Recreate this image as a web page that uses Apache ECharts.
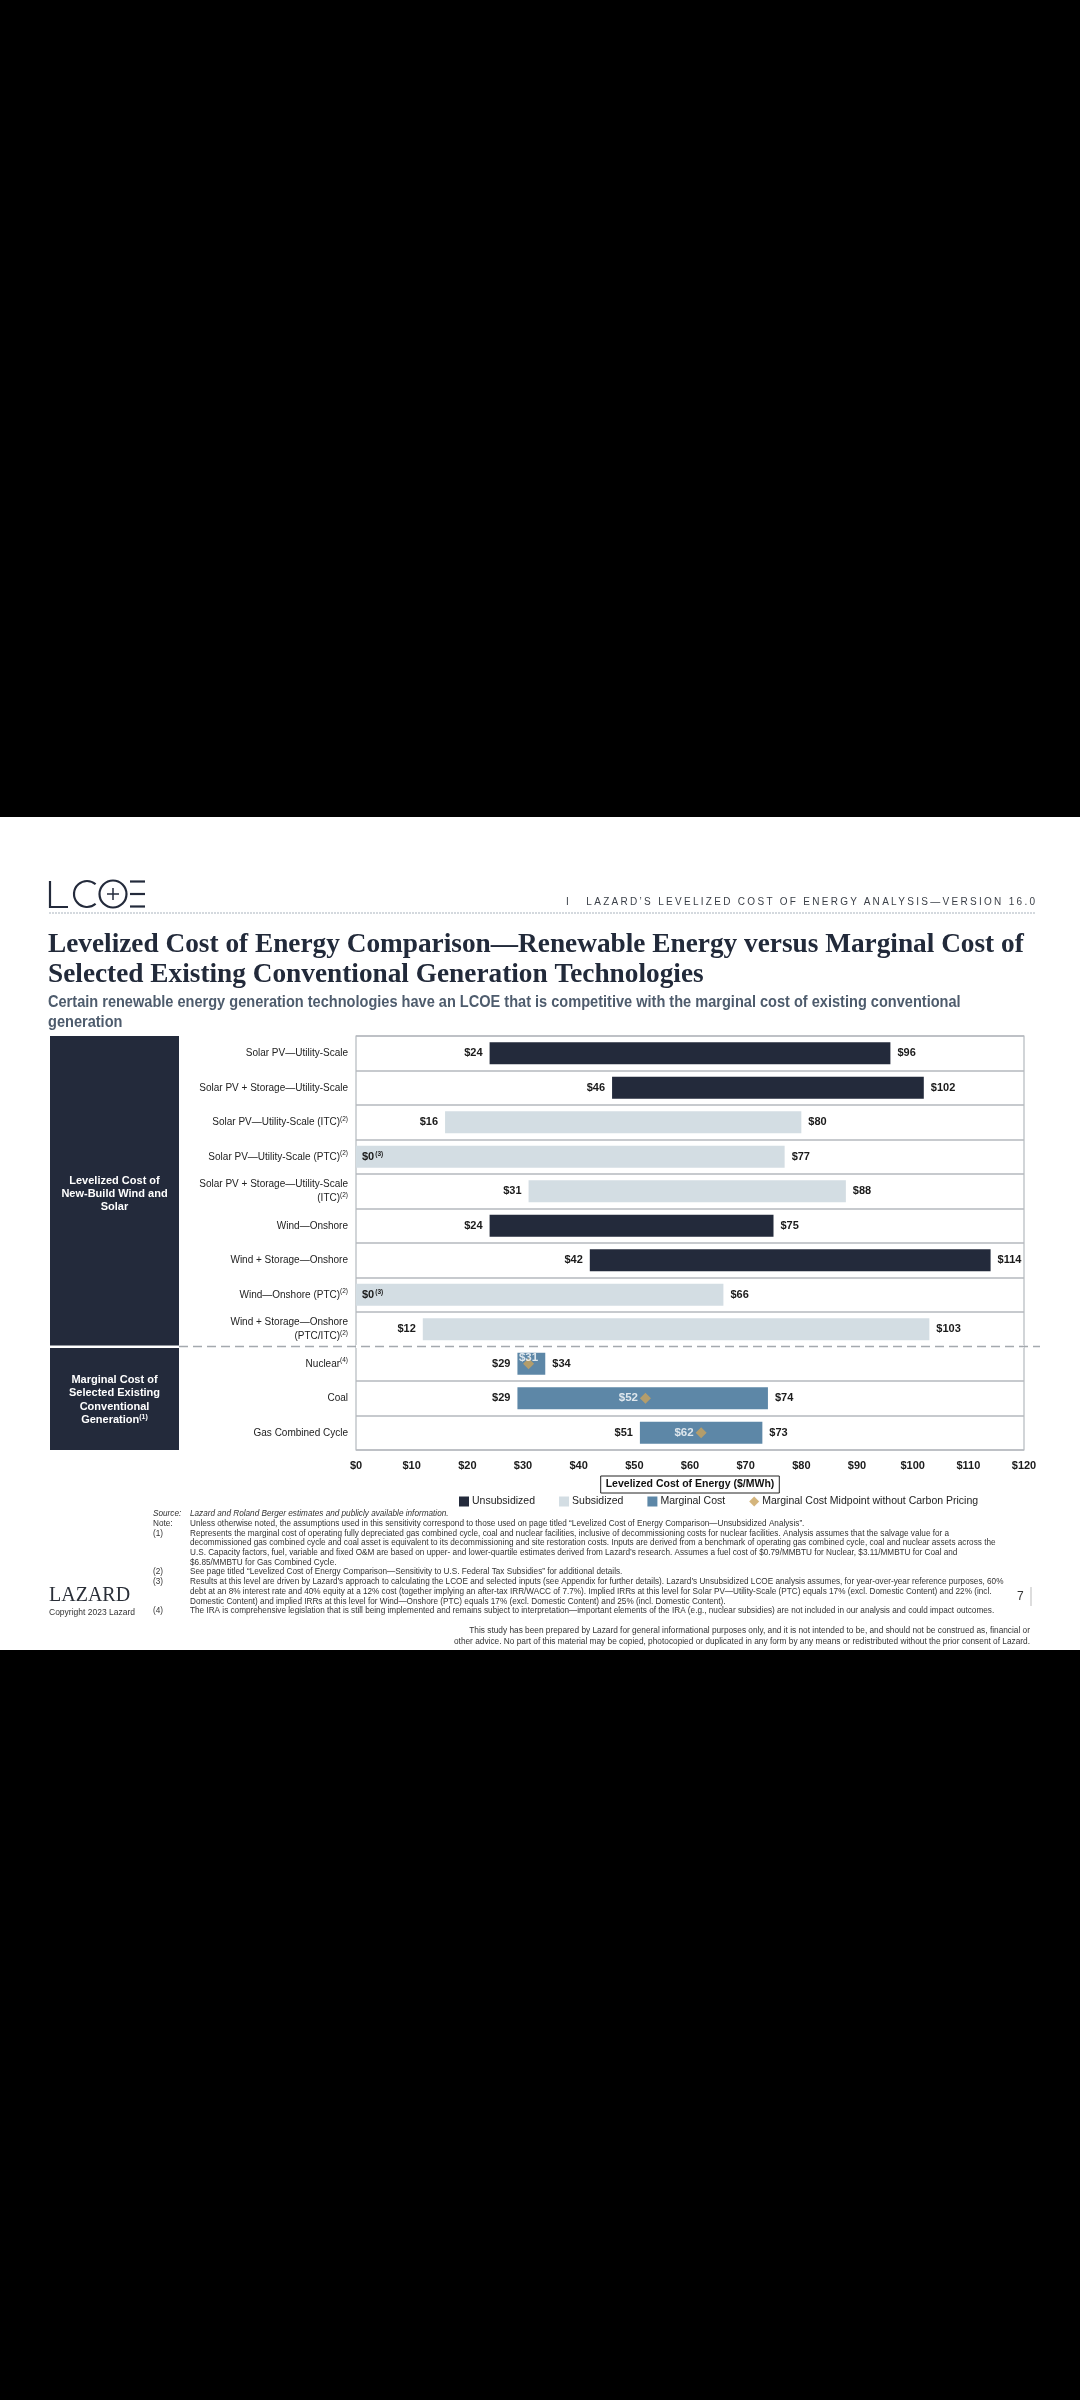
<!DOCTYPE html>
<html>
<head>
<meta charset="utf-8">
<script src="https://cdn.jsdelivr.net/npm/echarts@6/dist/echarts.min.js"></script>
<style>
html, body { margin: 0; padding: 0; background: #000; }
#chart { width: 1080px; height: 2400px; }
.hdr {
    position: absolute; left: 566px; top: 896px;
    font: 10px 'Liberation Sans', Arial, sans-serif;
    letter-spacing: 2.3px; color: #3a3f47; white-space: nowrap;
}
</style>
</head>
<body>
<div id="chart"></div>
<div class="hdr">I&nbsp;&nbsp;&nbsp;LAZARD’S LEVELIZED COST OF ENERGY ANALYSIS—VERSION 16.0</div>
<script>
// chart data
const categories = [
    'Solar PV—Utility-Scale',
    'Solar PV + Storage—Utility-Scale',
    'Solar PV—Utility-Scale (ITC)',
    'Solar PV—Utility-Scale (PTC)',
    'Solar PV + Storage—Utility-Scale\n(ITC)',
    'Wind—Onshore',
    'Wind + Storage—Onshore',
    'Wind—Onshore (PTC)',
    'Wind + Storage—Onshore\n(PTC/ITC)',
    'Nuclear',
    'Coal',
    'Gas Combined Cycle'
];
const notes = ['', '', '2', '2', '2', '', '', '2', '2', '4', '', ''];
const lowValues = [24, 46, 16, 0, 31, 24, 42, 0, 12, 29, 29, 51];
const highValues = [96, 102, 80, 77, 88, 75, 114, 66, 103, 34, 74, 73];
const barKind = ['Unsubsidized', 'Unsubsidized', 'Subsidized', 'Subsidized', 'Subsidized',
    'Unsubsidized', 'Unsubsidized', 'Subsidized', 'Subsidized',
    'Marginal Cost', 'Marginal Cost', 'Marginal Cost'];
const midpoints = [null, null, null, null, null, null, null, null, null, 31, 52, 62];
const zeroNote = '3';
const midName = 'Marginal Cost Midpoint without Carbon Pricing';

const footLines = [
    ['Source:', 'Lazard and Roland Berger estimates and publicly available information.', true],
    ['Note:', 'Unless otherwise noted, the assumptions used in this sensitivity correspond to those used on page titled “Levelized Cost of Energy Comparison—Unsubsidized Analysis”.'],
    ['(1)', 'Represents the marginal cost of operating fully depreciated gas combined cycle, coal and nuclear facilities, inclusive of decommissioning costs for nuclear facilities. Analysis assumes that the salvage value for a'],
    ['', 'decommissioned gas combined cycle and coal asset is equivalent to its decommissioning and site restoration costs. Inputs are derived from a benchmark of operating gas combined cycle, coal and nuclear assets across the'],
    ['', 'U.S. Capacity factors, fuel, variable and fixed O&M are based on upper- and lower-quartile estimates derived from Lazard’s research. Assumes a fuel cost of $0.79/MMBTU for Nuclear, $3.11/MMBTU for Coal and'],
    ['', '$6.85/MMBTU for Gas Combined Cycle.'],
    ['(2)', 'See page titled “Levelized Cost of Energy Comparison—Sensitivity to U.S. Federal Tax Subsidies” for additional details.'],
    ['(3)', 'Results at this level are driven by Lazard’s approach to calculating the LCOE and selected inputs (see Appendix for further details). Lazard’s Unsubsidized LCOE analysis assumes, for year-over-year reference purposes, 60%'],
    ['', 'debt at an 8% interest rate and 40% equity at a 12% cost (together implying an after-tax IRR/WACC of 7.7%). Implied IRRs at this level for Solar PV—Utility-Scale (PTC) equals 17% (excl. Domestic Content) and 22% (incl.'],
    ['', 'Domestic Content) and implied IRRs at this level for Wind—Onshore (PTC) equals 17% (excl. Domestic Content) and 25% (incl. Domestic Content).'],
    ['(4)', 'The IRA is comprehensive legislation that is still being implemented and remains subject to interpretation—important elements of the IRA (e.g., nuclear subsidies) are not included in our analysis and could impact outcomes.']
];
const disclaimer = [
    'This study has been prepared by Lazard for general informational purposes only, and it is not intended to be, and should not be construed as, financial or',
    'other advice. No part of this material may be copied, photocopied or duplicated in any form by any means or redistributed without the prior consent of Lazard.'
];

const NARROW = "'Liberation Sans Narrow', 'Liberation Sans', Arial, sans-serif";
const SANS = "'Liberation Sans', Arial, sans-serif";
const SERIF = "'Liberation Serif', 'Times New Roman', serif";
const NAVY = '#232a3b';
const colors = { 'Unsubsidized': NAVY, 'Subsidized': '#d3dde3', 'Marginal Cost': '#5d87a7' };

// layout of the plot
const gridTop = 1036, gridBottom = 1450, gridLeft = 356, gridRight = 1024;
const rowH = (gridBottom - gridTop) / categories.length;
const splitY = gridTop + rowH * 9;

const chart = echarts.init(document.getElementById('chart'));

const barLabel = { fontFamily: NARROW, fontWeight: 'bold', fontSize: 11, color: '#1b1b1b' };
const supStyle = { fontFamily: NARROW, fontSize: 6.5, verticalAlign: 'top', padding: [0, 0, 5, 1], color: '#1b1b1b' };

let series = [];
// transparent base carries the low label
series.push({
    name: 'base', type: 'bar', stack: 'r', barWidth: 22, silent: true,
    itemStyle: { color: 'transparent' },
    data: lowValues.map(v => ({
        value: v,
        label: v > 0 ? { position: 'insideRight', distance: 7 } : { position: 'right', distance: 6 }
    })),
    label: Object.assign({
        show: true,
        formatter: p => lowValues[p.dataIndex] > 0 ? '$' + lowValues[p.dataIndex] : '$0{s|(' + zeroNote + ')}',
        rich: { s: supStyle }
    }, barLabel)
});
['Unsubsidized', 'Subsidized', 'Marginal Cost'].forEach(k => {
    series.push({
        name: k, type: 'bar', stack: 'r', barWidth: 22,
        itemStyle: { color: colors[k] },
        data: lowValues.map((lo, i) => barKind[i] === k ? highValues[i] - lo : '-'),
        label: Object.assign({
            show: true, position: 'right', distance: 7,
            formatter: p => '$' + highValues[p.dataIndex]
        }, barLabel)
    });
});
series.push({
    name: midName, type: 'scatter', symbol: 'diamond', symbolSize: 11, z: 5,
    itemStyle: { color: '#c9a25c' },
    data: midpoints.map((m, i) => m == null ? null : {
        value: [m, i],
        label: highValues[i] - lowValues[i] < 10 ? { position: 'top', distance: -6 } : { position: 'left', distance: 2 }
    }).filter(d => d),
    label: {
        show: true, formatter: p => '$' + p.value[0],
        fontFamily: NARROW, fontWeight: 'bold', fontSize: 11.5, color: '#fff'
    }
});

// page decorations and text
let graphic = [
    { type: 'rect', shape: { x: 0, y: 817, width: 1080, height: 833 }, style: { fill: '#fff' }, z: -10 },
    // LCOE logo
    { type: 'polyline', shape: { points: [[50, 881], [50, 907], [68, 907]] }, style: { stroke: NAVY, lineWidth: 2.2, fill: null } },
    { type: 'arc', shape: { cx: 87, cy: 894, r: 13, startAngle: Math.PI * 0.27, endAngle: Math.PI * 1.73, clockwise: true }, style: { stroke: NAVY, lineWidth: 2.2, fill: null } },
    { type: 'circle', shape: { cx: 113, cy: 894, r: 13.5 }, style: { stroke: NAVY, lineWidth: 2.2, fill: null } },
    { type: 'line', shape: { x1: 107, y1: 894, x2: 119, y2: 894 }, style: { stroke: NAVY, lineWidth: 1.5 } },
    { type: 'line', shape: { x1: 113, y1: 888, x2: 113, y2: 900 }, style: { stroke: NAVY, lineWidth: 1.5 } },
    { type: 'line', shape: { x1: 130, y1: 881.5, x2: 145, y2: 881.5 }, style: { stroke: NAVY, lineWidth: 2.2 } },
    { type: 'line', shape: { x1: 130, y1: 894, x2: 145, y2: 894 }, style: { stroke: NAVY, lineWidth: 2.2 } },
    { type: 'line', shape: { x1: 130, y1: 906.5, x2: 145, y2: 906.5 }, style: { stroke: NAVY, lineWidth: 2.2 } },
    { type: 'line', shape: { x1: 49, y1: 913, x2: 1035, y2: 913 }, style: { stroke: '#c6cdd4', lineWidth: 1.5, lineDash: [2, 1] } },
    // title
    { type: 'text', x: 48, y: 945, style: { text: 'Levelized Cost of Energy Comparison—Renewable Energy versus Marginal Cost of', font: 'bold 27.3px ' + SERIF, fill: '#222a3a', verticalAlign: 'middle' } },
    { type: 'text', x: 48, y: 975, style: { text: 'Selected Existing Conventional Generation Technologies', font: 'bold 27.3px ' + SERIF, fill: '#222a3a', verticalAlign: 'middle' } },
    { type: 'text', x: 48, y: 1003, scaleX: 0.91, style: { text: 'Certain renewable energy generation technologies have an LCOE that is competitive with the marginal cost of existing conventional', font: 'bold 16px ' + NARROW, fill: '#4e5c6d', verticalAlign: 'middle' } },
    { type: 'text', x: 48, y: 1023, scaleX: 0.91, style: { text: 'generation', font: 'bold 16px ' + NARROW, fill: '#4e5c6d', verticalAlign: 'middle' } },
    // side panels
    { type: 'rect', shape: { x: 50, y: gridTop, width: 129, height: splitY - gridTop - 1 }, style: { fill: NAVY } },
    { type: 'rect', shape: { x: 50, y: splitY + 1.5, width: 129, height: gridBottom - splitY - 1.5 }, style: { fill: NAVY } },
    { type: 'text', x: 114.5, y: 1194, style: { text: 'Levelized Cost of\nNew-Build Wind and\nSolar', font: 'bold 11px ' + SANS, fill: '#fff', align: 'center', verticalAlign: 'middle', lineHeight: 13.3 } },
    { type: 'text', x: 114.5, y: 1400, style: { text: 'Marginal Cost of\nSelected Existing\nConventional\nGeneration{s|(1)}', font: 'bold 11px ' + SANS, fill: '#fff', align: 'center', verticalAlign: 'middle', lineHeight: 13.3,
        rich: { s: { fontFamily: SANS, fontWeight: 'bold', fontSize: 7, fill: '#fff', verticalAlign: 'top', padding: [0, 0, 4, 0] } } } },
    // dashed split between renewable and conventional rows
    { type: 'line', z: 10, shape: { x1: gridLeft, y1: splitY, x2: gridRight, y2: splitY }, style: { stroke: '#fff', lineWidth: 3 } },
    { type: 'line', z: 11, shape: { x1: 179, y1: splitY, x2: 1040, y2: splitY }, style: { stroke: '#a4a9ae', lineWidth: 1.5, lineDash: [9, 5] } },
    // footer
    { type: 'text', x: 49, y: 1596, style: { text: 'LAZARD', font: '20px ' + SERIF, fill: '#2a2f38', verticalAlign: 'middle' } },
    { type: 'text', x: 49, y: 1613, style: { text: 'Copyright 2023 Lazard', font: '8.5px ' + SANS, fill: '#333', verticalAlign: 'middle' } },
    { type: 'text', x: 1017, y: 1597, style: { text: '7', font: '12px ' + SANS, fill: '#333', verticalAlign: 'middle' } },
    { type: 'line', shape: { x1: 1031, y1: 1587, x2: 1031, y2: 1606 }, style: { stroke: '#bbb', lineWidth: 1 } }
];
footLines.forEach((f, i) => {
    const y = 1514 + i * 9.7;
    const fs = f[2] ? 'italic ' : '';
    graphic.push({ type: 'text', x: 153, y: y, style: { text: f[0], font: fs + '8.2px ' + SANS, fill: '#333', verticalAlign: 'middle' } });
    graphic.push({ type: 'text', x: 190, y: y, style: { text: f[1], font: fs + '8.2px ' + SANS, fill: '#333', verticalAlign: 'middle' } });
});
disclaimer.forEach((d, i) => {
    graphic.push({ type: 'text', x: 1030, y: 1631 + i * 10.5, style: { text: d, font: '8.3px ' + SANS, fill: '#333', align: 'right', verticalAlign: 'middle' } });
});

const option = {
    backgroundColor: '#000',
    animation: false,
    grid: {
        left: gridLeft, right: 1080 - gridRight, top: gridTop, bottom: 2400 - gridBottom,
        show: true, borderColor: '#b4b9be', borderWidth: 1.2, backgroundColor: '#fff',
        outerBoundsMode: 'none'
    },
    legend: {
        left: 459, top: 1496, padding: 0, itemWidth: 10, itemHeight: 10, itemGap: 24,
        textStyle: { fontFamily: NARROW, fontSize: 10.5, color: '#222', padding: [0, 0, 0, -2] },
        data: [
            { name: 'Unsubsidized', icon: 'rect' },
            { name: 'Subsidized', icon: 'rect' },
            { name: 'Marginal Cost', icon: 'rect' },
            { name: midName, icon: 'diamond' }
        ]
    },
    xAxis: {
        type: 'value', min: 0, max: 120, interval: 10,
        axisLine: { show: false }, axisTick: { show: false }, splitLine: { show: false },
        axisLabel: { formatter: v => '$' + v, fontFamily: NARROW, fontWeight: 'bold', fontSize: 11, color: '#1b1b1b', margin: 10 },
        name: 'Levelized Cost of Energy ($/MWh)', nameLocation: 'middle', nameGap: 26,
        nameTextStyle: {
            fontFamily: NARROW, fontWeight: 'bold', fontSize: 10.5, color: '#111',
            borderColor: '#222', borderWidth: 1, padding: [3, 5, 3, 5]
        }
    },
    yAxis: {
        type: 'category', inverse: true, data: categories,
        axisLine: { show: false }, axisTick: { show: false },
        splitLine: { show: true, lineStyle: { color: '#b4b9be', width: 1.5 } },
        axisLabel: {
            fontFamily: NARROW, fontSize: 10, color: '#222', margin: 8, lineHeight: 14,
            formatter: (v, i) => {
                const lines = v.split('\n');
                if (notes[i]) lines[lines.length - 1] += '{s|(' + notes[i] + ')}';
                return lines.join('\n');
            },
            rich: { s: { fontFamily: NARROW, fontSize: 6.5, color: '#222', verticalAlign: 'top', padding: [0, 0, 5, 0] } }
        }
    },
    graphic: graphic,
    series: series
};
chart.setOption(option);
window.addEventListener('resize', () => chart.resize());
</script>
</body>
</html>
